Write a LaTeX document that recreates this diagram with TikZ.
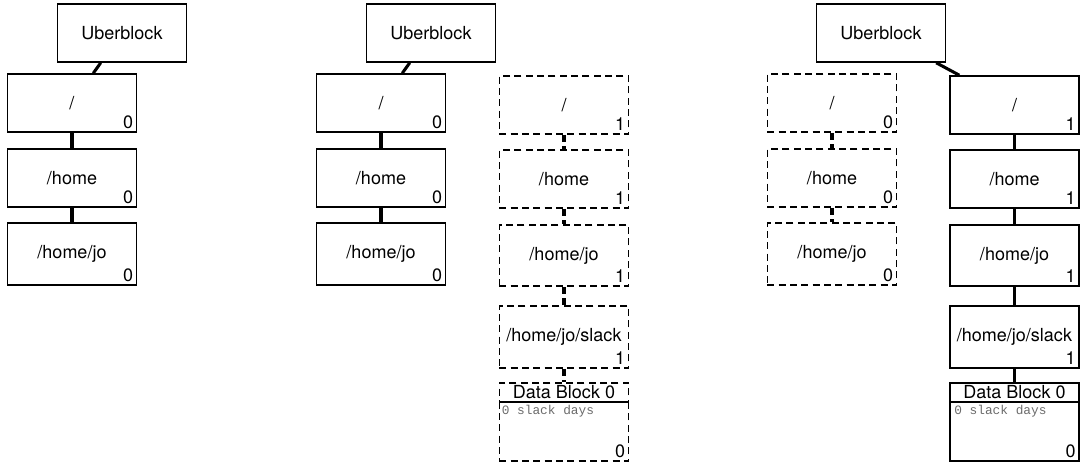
\documentclass[tikz,border=0pt]{standalone}
\usepackage{fontspec}
\setmainfont{TeX Gyre Heros}
\newfontfamily\codefont{Liberation Mono}
\usetikzlibrary{calc}
\begin{document}
\begin{tikzpicture}[x=0.75pt,y=-0.75pt,
  box/.style={draw, line width=1.15pt, inner sep=0pt, minimum width=97pt, minimum height=43.5pt,
    font=\fontsize{13.5}{15}\selectfont},
  tall/.style={minimum height=46.5pt},
  dbox/.style={box, dash pattern=on 5.2pt off 3.3pt},
  hdr/.style={minimum height=14.25pt},
  body/.style={minimum height=44.25pt},
  conn/.style={line width=2.3pt},
  dconn/.style={conn, dash pattern=on 5.2pt off 3.3pt},
  num/.style={inner sep=0pt, anchor=base east, font=\fontsize{13.5}{15}\selectfont},
  code/.style={inner sep=0pt, anchor=base west, text=black!58, font=\codefont\fontsize{9.6}{11}\selectfont}]
\useasboundingbox (0,0) rectangle (1081,467);

% ---------- panel 1 ----------
\node[box] (u1) at (122,33) {Uberblock};
\node[box] (r1) at (72,103) {/};
\node[box] (h1) at (72,178) {/home};
\node[box,tall] (j1) at (72,254) {/home/jo};
\node[num] (r1c) at ($(r1.south east)+(-4,-4)$) {0};
\node[num] (h1c) at ($(h1.south east)+(-4,-4)$) {0};
\node[num] (j1c) at ($(j1.south east)+(-4,-4)$) {0};
\draw[conn] (u1) -- (r1);
\draw[conn] (r1) -- (h1);
\draw[conn] (h1) -- (j1);

% ---------- panel 2 ----------
\node[box] (u2) at (431,33) {Uberblock};
\node[box] (r2) at (381,103) {/};
\node[box] (h2) at (381,178) {/home};
\node[box,tall] (j2) at (381,254) {/home/jo};
\node[num] (r2c) at ($(r2.south east)+(-4,-4)$) {0};
\node[num] (h2c) at ($(h2.south east)+(-4,-4)$) {0};
\node[num] (j2c) at ($(j2.south east)+(-4,-4)$) {0};
\draw[conn] (u2) -- (r2);
\draw[conn] (r2) -- (h2);
\draw[conn] (h2) -- (j2);

\node[dbox] (r2n) at (564,105) {/};
\node[dbox] (h2n) at (564,179) {/home};
\node[dbox,minimum height=45.75pt] (j2n) at (564,255.5) {/home/jo};
\node[dbox,tall] (s2n) at (564,337) {/home/jo/slack};
\node[dbox,hdr] (d2h) at (564,392.5) {Data Block 0};
\node[dbox,body] (d2b) at (564,431.5) {};
\node[num] (r2nc) at ($(r2n.south east)+(-4,-4)$) {1};
\node[num] (h2nc) at ($(h2n.south east)+(-4,-4)$) {1};
\node[num] (j2nc) at ($(j2n.south east)+(-4,-4)$) {1};
\node[num] (s2nc) at ($(s2n.south east)+(-4,-4)$) {1};
\node[num] (d2bc) at ($(d2b.south east)+(-4,-4)$) {0};
\node[code] (d2t) at ($(d2b.north west)+(3,13)$) {0 slack days};
\draw[dconn] (r2n) -- (h2n);
\draw[dconn] (h2n) -- (j2n);
\draw[dconn] (j2n) -- (s2n);
\draw[dconn] (s2n) -- (d2h);

% ---------- panel 3 ----------
\node[box] (u3) at (881,33) {Uberblock};
\node[dbox] (r3) at (832,103) {/};
\node[dbox] (h3) at (832,178) {/home};
\node[dbox,tall] (j3) at (832,254) {/home/jo};
\node[num] (r3c) at ($(r3.south east)+(-4,-4)$) {0};
\node[num] (h3c) at ($(h3.south east)+(-4,-4)$) {0};
\node[num] (j3c) at ($(j3.south east)+(-4,-4)$) {0};
\draw[dconn] (r3) -- (h3);
\draw[dconn] (h3) -- (j3);

\node[box] (r3n) at (1014.5,105) {/};
\node[box] (h3n) at (1014.5,179) {/home};
\node[box,minimum height=45.75pt] (j3n) at (1014.5,255.5) {/home/jo};
\node[box,tall] (s3n) at (1014.5,337) {/home/jo/slack};
\node[box,hdr] (d3h) at (1014.5,392.5) {Data Block 0};
\node[box,body] (d3b) at (1014.5,431.5) {};
\node[num] (r3nc) at ($(r3n.south east)+(-4,-4)$) {1};
\node[num] (h3nc) at ($(h3n.south east)+(-4,-4)$) {1};
\node[num] (j3nc) at ($(j3n.south east)+(-4,-4)$) {1};
\node[num] (s3nc) at ($(s3n.south east)+(-4,-4)$) {1};
\node[num] (d3bc) at ($(d3b.south east)+(-4,-4)$) {0};
\node[code] (d3t) at ($(d3b.north west)+(5,13)$) {0 slack days};
\draw[conn] (u3) -- (r3n);
\draw[conn] (r3n) -- (h3n);
\draw[conn] (h3n) -- (j3n);
\draw[conn] (j3n) -- (s3n);
\draw[conn] (s3n) -- (d3h);
\end{tikzpicture}
\end{document}
